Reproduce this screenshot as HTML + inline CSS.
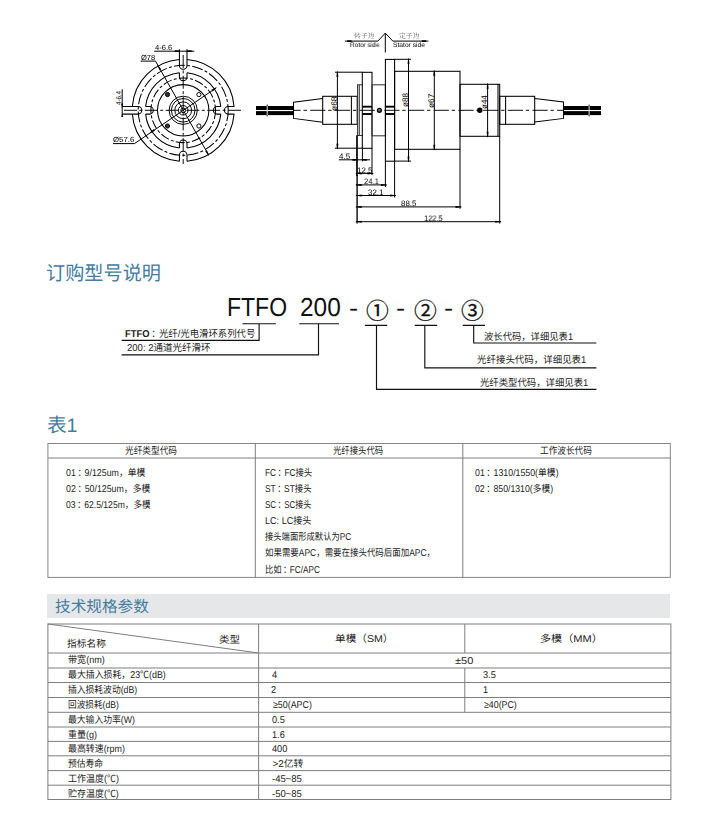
<!DOCTYPE html>
<html lang="zh-CN">
<head>
<meta charset="utf-8">
<title>FTFO 200 光纤/光电滑环</title>
<style>
*{margin:0;padding:0;box-sizing:border-box}
html,body{width:701px;height:825px;background:#fff;overflow:hidden}
body{position:relative;font-family:"Liberation Sans","Noto Sans CJK SC",sans-serif;color:#1a1a1a;-webkit-font-smoothing:antialiased}
#art{position:absolute;left:0;top:0;width:701px;height:825px}
.bar{position:absolute;left:47.2px;top:594.3px;width:622.4px;height:23.4px;background:#e6e7e8}
.t{position:absolute;white-space:pre;line-height:1;transform-origin:0 0;text-rendering:geometricPrecision}
.h{color:#457c9f;font-weight:400}
.m{color:#111;font-weight:400}
.mc{color:#111;font-weight:400;-webkit-text-stroke:.28px #111}
.md{color:#111;font-weight:400;font-family:"Noto Sans CJK SC",sans-serif}
.b{color:#1d1d1d}
.p{position:relative;left:.18em}
.dl{color:#000;will-change:transform}
.dr{color:#000}
.sf{color:#555;font-family:"Liberation Serif","Noto Serif CJK SC",serif;will-change:transform}
svg .o{fill:none;stroke:#000;stroke-width:1.05}
svg .g{fill:none;stroke:#333;stroke-width:1.05}
svg .ref{fill:none;stroke:#000;stroke-width:1.7}
svg .ref2{fill:none;stroke:#000;stroke-width:1.35}
svg .pin{fill:#777;stroke:#000;stroke-width:1.4}
svg .pl{fill:#ddd;stroke:#222;stroke-width:.8}
svg .th{fill:none;stroke:#000;stroke-width:.95}
svg .hf{fill:#333;stroke:#000;stroke-width:.95}
svg .d{fill:none;stroke:#000;stroke-width:1}
svg .ah{fill:#000;stroke:none}
svg .dot{fill:#000;stroke:none}
svg .cab{fill:#000;stroke:none}
svg .brk{fill:none;stroke:#fff;stroke-width:.9}
svg .mk{fill:none;stroke:#000;stroke-width:1.9}
svg .cl{fill:none;stroke:#000;stroke-width:.95;stroke-dasharray:15.2 2.8 3.4 3.3;stroke-dashoffset:7.9}
svg .cf{fill:none;stroke:#000;stroke-width:.95;stroke-dasharray:13 2.4 3 2.4}
svg .dc{fill:none;stroke:#000;stroke-width:1.05;stroke-dasharray:11 2.2 3 2.2}
svg .dc2{fill:none;stroke:#000;stroke-width:1.05;stroke-dasharray:9 2.2 3 2.2}
svg .k{fill:none;stroke:#111;stroke-width:1.15}
svg .tb rect,svg .tb line{fill:none;stroke:#7d7e81;stroke-width:1}
svg .tb .t1{stroke:#858689}
</style>
</head>
<body>
<div class="bar"></div>
<svg id="art" width="701" height="825" viewBox="0 0 701 825">
<g class="front">
<path class="o" d="M234.06 114.1A51 51 0 0 1 187 161.16M179.4 161.16A51 51 0 0 1 132.34 114.1M132.34 106.5A51 51 0 0 1 179.4 59.44M187 59.44A51 51 0 0 1 234.06 106.5"/>
<path class="o" d="M220.81 114.1A37.8 37.8 0 0 1 187 147.91M179.4 147.91A37.8 37.8 0 0 1 145.59 114.1M145.59 106.5A37.8 37.8 0 0 1 179.4 72.69M187 72.69A37.8 37.8 0 0 1 220.81 106.5"/>
<circle class="dc" cx="183.2" cy="110.3" r="45"/>
<circle class="dc2" cx="183.2" cy="110.3" r="32.3"/>
<circle class="o" cx="183.2" cy="110.3" r="25.7"/>
<circle class="th" cx="183.2" cy="110.3" r="14.1"/>
<circle class="th" cx="183.2" cy="110.3" r="11.8"/>
<circle class="th" cx="183.2" cy="110.3" r="8.4"/>
<circle class="th" cx="183.2" cy="110.3" r="4.8"/>
<circle class="th" cx="183.2" cy="110.3" r="2.4"/>
<circle class="hf" cx="167.5" cy="94.6" r="2.1"/>
<circle class="hf" cx="167.5" cy="126" r="2.1"/>
<circle class="th" cx="198.9" cy="94.6" r="2.1"/>
<circle class="th" cx="198.9" cy="126" r="2.1"/>
<path class="o" d="M187 49.3L187 65.4A3.8 3.8 0 0 1 179.4 65.4L179.4 49.3"/>
<path class="o" d="M187 72.69L187 76.9A3.8 3.8 0 0 1 179.4 76.9L179.4 72.69"/>
<path class="o" d="M179.4 161.16L179.4 155A3.8 3.8 0 0 1 187 155L187 161.16"/>
<path class="o" d="M179.4 147.91L179.4 143.9A3.8 3.8 0 0 1 187 143.9L187 147.91"/>
<path class="o" d="M122.3 106.5L138 106.5A3.8 3.8 0 0 1 138 114.1L122.3 114.1"/>
<path class="o" d="M145.59 106.5L149.5 106.5A3.8 3.8 0 0 1 149.5 114.1L145.59 114.1"/>
<path class="o" d="M234.36 114.1L228.2 114.1A3.8 3.8 0 0 1 228.2 106.5L234.36 106.5"/>
<path class="o" d="M220.81 114.1L217.1 114.1A3.8 3.8 0 0 1 217.1 106.5L220.81 106.5"/>
<line class="cf" x1="124" y1="110.3" x2="243.5" y2="110.3"/>
<line class="cf" x1="183.2" y1="55" x2="183.2" y2="164"/>
<line class="d" x1="154.2" y1="51.2" x2="194.3" y2="51.2"/>
<path class="ah" d="M179.4 51.9L174.8 52.1L174.8 50.3L179.4 50.5Z"/>
<path class="ah" d="M187 50.5L191.6 50.3L191.6 52.1L187 51.9Z"/>
<line class="d" x1="122.2" y1="89.2" x2="122.2" y2="115.2"/>
<path class="ah" d="M121.9 107.5L121.2 103.5L123.2 103.5L122.5 107.5Z"/>
<path class="ah" d="M122.5 114.1L123.2 117.1L121.2 117.1L121.9 114.1Z"/>
<path class="d" d="M140.6 61.1H155.5L208.6 155"/>
<path class="ah" d="M157.86 64.89L161.18 69.33L159.44 70.32L157.34 65.18Z"/>
<path class="ah" d="M208.54 155.71L205.22 151.27L206.96 150.28L209.06 155.42Z"/>
<path class="d" d="M113 143.6H134.5L215.9 88.1"/>
<path class="ah" d="M149.73 132.75L153.88 129.08L155.01 130.73L150.07 133.25Z"/>
<path class="ah" d="M216.67 87.85L212.52 91.52L211.39 89.87L216.33 87.35Z"/>
</g>
<g class="side">
<rect class="cab" x="256" y="106" width="37.5" height="4"/>
<rect class="cab" x="256" y="111.1" width="37.5" height="4"/>
<line class="brk" x1="267.2" y1="105.6" x2="267.2" y2="115.5"/>
<path class="th" d="M267.2 104.6V106M267.2 115.1V116.4"/>
<rect class="cab" x="563.6" y="106" width="37.4" height="4"/>
<rect class="cab" x="563.6" y="111.1" width="37.4" height="4"/>
<line class="brk" x1="589.1" y1="105.6" x2="589.1" y2="115.5"/>
<path class="th" d="M589.1 104.6V106M589.1 115.1V116.4"/>
<path class="o" d="M322.7 98.4L293.5 102.2V118.4L322.7 122.2"/>
<rect class="o" x="322.7" y="96.3" width="34.5" height="28"/>
<line class="o" x1="351.4" y1="96.2" x2="351.4" y2="124.2"/>
<path class="g" d="M362.4 84.8H357.6V135.4H362.4M359.3 84.8V135.4"/>
<rect class="o" x="362.3" y="72.3" width="9.7" height="76"/>
<rect class="g" x="372" y="84.8" width="13.4" height="51"/>
<rect class="o" x="385.4" y="59.4" width="9.2" height="101.8"/>
<rect class="o" x="394.6" y="71.3" width="65.4" height="78"/>
<rect class="o" x="460" y="84.3" width="39.7" height="52"/>
<line class="o" x1="498" y1="84.2" x2="498" y2="136.2"/>
<rect class="o" x="499.7" y="96.3" width="35" height="28"/>
<line class="o" x1="505.6" y1="96.2" x2="505.6" y2="124.2"/>
<path class="o" d="M534.7 98.4L563.5 102.0V118.4L534.7 122.0"/>
<line class="mk" x1="362.3" y1="106.7" x2="372" y2="106.7"/>
<line class="mk" x1="362.3" y1="114" x2="372" y2="114"/>
<line class="mk" x1="385.4" y1="106.7" x2="394.6" y2="106.7"/>
<line class="mk" x1="385.4" y1="114" x2="394.6" y2="114"/>
<line class="cl" x1="293.4" y1="110.3" x2="563.6" y2="110.3"/>
<circle class="pin" cx="379.4" cy="110.3" r="1.9"/>
<circle class="dot" cx="479.8" cy="110.3" r="2.7"/>
<path class="d" d="M345 41.1H377.8L385.3 33.1L392.8 41.1H428.4M385.3 33.1V52.5"/>
<rect class="dot" x="347.2" y="40.3" width="4.4" height="1.6"/>
<rect class="dot" x="421.8" y="40.3" width="4.4" height="1.6"/>
<path class="d" d="M335 72.2H362.3M335 148.2H362.3M337.4 72.2V148.2"/>
<path class="ah" d="M337.7 71.2L338.4 76.7L336.4 76.7L337.1 71.2Z"/>
<path class="ah" d="M337.1 149.2L336.4 143.7L338.4 143.7L337.7 149.2Z"/>
<path class="d" d="M394.6 59.3H411M394.6 161.1H411M408.5 59.3V161.1"/>
<path class="ah" d="M408.8 58.3L409.5 63.8L407.5 63.8L408.2 58.3Z"/>
<path class="ah" d="M408.2 162.1L407.5 156.6L409.5 156.6L408.8 162.1Z"/>
<path class="d" d="M434.3 71.2V149.2"/>
<path class="ah" d="M434.6 70.2L435.3 75.7L433.3 75.7L434 70.2Z"/>
<path class="ah" d="M434 150.2L433.3 144.7L435.3 144.7L434.6 150.2Z"/>
<path class="d" d="M487.6 84.2V136.2"/>
<path class="ah" d="M487.9 83.2L488.6 88.7L486.6 88.7L487.3 83.2Z"/>
<path class="ah" d="M487.3 137.2L486.6 131.7L488.6 131.7L487.9 137.2Z"/>
<line class="ref" x1="357" y1="135.3" x2="357" y2="176"/>
<line class="ref2" x1="357.1" y1="175" x2="357.1" y2="223.6"/>
<path class="d" d="M362.4 148.2V161.4M372 148.2V175M385.4 161.1V187M394.6 161.1V197.5M460 149.2V208.8M499.7 136.2V223.6"/>
<path class="d" d="M338.8 159.8H370M355.8 173.4H373.4M355.8 184.9H386.8M355.8 195.5H396M355.8 206.9H461.4M355.8 221.7H501.1"/>
<path class="ah" d="M357.2 160.5L352.4 160.7L352.4 158.9L357.2 159.1Z"/>
<path class="ah" d="M362.3 159.1L366.9 158.9L366.9 160.7L362.3 160.5Z"/>
<path class="ah" d="M356.2 173.1L361.7 172.4L361.7 174.4L356.2 173.7Z"/>
<path class="ah" d="M373 173.7L367.5 174.4L367.5 172.4L373 173.1Z"/>
<path class="ah" d="M356.2 184.6L361.7 183.9L361.7 185.9L356.2 185.2Z"/>
<path class="ah" d="M386.4 185.2L380.9 185.9L380.9 183.9L386.4 184.6Z"/>
<path class="ah" d="M356.2 195.2L361.7 194.5L361.7 196.5L356.2 195.8Z"/>
<path class="ah" d="M395.6 195.8L390.1 196.5L390.1 194.5L395.6 195.2Z"/>
<path class="ah" d="M356.2 206.6L361.7 205.9L361.7 207.9L356.2 207.2Z"/>
<path class="ah" d="M461 207.2L455.5 207.9L455.5 205.9L461 206.6Z"/>
<path class="ah" d="M356.2 221.4L361.7 220.7L361.7 222.7L356.2 222Z"/>
<path class="ah" d="M500.7 222L495.2 222.7L495.2 220.7L500.7 221.4Z"/>
</g>
<g class="lead">
<path class="k" d="M242.4 323.7H275.8M259.1 323.7V340.3H121.6"/>
<path class="k" d="M299.2 323.7H339M318.5 323.7V354.9H121.6"/>
<path class="k" d="M364.9 325.4H387.2M376.5 325.4V389.4H596.4"/>
<path class="k" d="M414.7 325.4H437.2M424.8 325.4V367.9H596.4"/>
<path class="k" d="M462.7 325.4H485M473.7 325.4V343H596.4"/>
</g>
<g class="tb">
<rect class="t1" x="47.9" y="443.5" width="622.4" height="133.9"/>
<line x1="47.9" y1="458" x2="670.3" y2="458"/>
<line x1="255.3" y1="443.5" x2="255.3" y2="577.4"/>
<line x1="462.8" y1="443.5" x2="462.8" y2="577.4"/>
<rect x="47.9" y="624" width="623" height="175.5"/>
<line x1="47.9" y1="653" x2="670.9" y2="653"/>
<line x1="47.9" y1="668" x2="670.9" y2="668"/>
<line x1="47.9" y1="682.5" x2="670.9" y2="682.5"/>
<line x1="47.9" y1="697.5" x2="670.9" y2="697.5"/>
<line x1="47.9" y1="712.3" x2="670.9" y2="712.3"/>
<line x1="47.9" y1="727" x2="670.9" y2="727"/>
<line x1="47.9" y1="741.4" x2="670.9" y2="741.4"/>
<line x1="47.9" y1="755.8" x2="670.9" y2="755.8"/>
<line x1="47.9" y1="770.6" x2="670.9" y2="770.6"/>
<line x1="47.9" y1="785.2" x2="670.9" y2="785.2"/>
<line x1="258.6" y1="624" x2="258.6" y2="799.5"/>
<line x1="464.8" y1="624" x2="464.8" y2="653"/>
<line x1="464.8" y1="668" x2="464.8" y2="712.3"/>
<line x1="47.9" y1="624" x2="258.6" y2="653"/>
</g>
</svg>
<section class="drawing-labels">
<span class="t dl" style="left:154.6px;top:44px;font-size:7.4px;transform:scaleX(1.024);">4-6.6</span>
<span class="t dl" style="left:140.7px;top:54px;font-size:7.4px;transform:scaleX(1.014);">Ø78</span>
<span class="t dl" style="left:113.1px;top:136px;font-size:7.4px;transform:scaleX(1.055);">Ø57.6</span>
<span class="t dr" style="left:116.1px;top:105.1px;font-size:7.0px;transform:rotate(-90deg) scaleX(0.875);">4-6.4</span>
<span class="t sf" style="left:354.4px;top:34px;font-size:6.6px;transform:scaleX(1.044);">转子边</span>
<span class="t sf" style="left:398.5px;top:34px;font-size:6.6px;transform:scaleX(1.039);">定子边</span>
<span class="t dl" style="left:349.7px;top:43px;font-size:6.6px;transform:scaleX(0.977);">Rotor side</span>
<span class="t dl" style="left:392.8px;top:43px;font-size:6.6px;transform:scaleX(1.013);">Stator side</span>
<span class="t dr" style="left:331.0px;top:111.4px;font-size:8.2px;transform:rotate(-90deg) scaleX(1.031);">ø68</span>
<span class="t dr" style="left:401.7px;top:106.7px;font-size:8.2px;transform:rotate(-90deg) scaleX(0.992);">ø88</span>
<span class="t dr" style="left:427.6px;top:107.5px;font-size:8.2px;transform:rotate(-90deg) scaleX(1.015);">ø67</span>
<span class="t dr" style="left:480.6px;top:109.0px;font-size:8.2px;transform:rotate(-90deg) scaleX(0.977);">ø44</span>
<span class="t dl" style="left:339.3px;top:153px;font-size:7.9px;transform:scaleX(1.009);">4.5</span>
<span class="t dl" style="left:356.8px;top:167px;font-size:7.9px;transform:scaleX(1.014);">12.5</span>
<span class="t dl" style="left:364.0px;top:178px;font-size:7.9px;transform:scaleX(0.960);">24.1</span>
<span class="t dl" style="left:368.4px;top:189px;font-size:7.9px;transform:scaleX(1.007);">32.1</span>
<span class="t dl" style="left:401.0px;top:200px;font-size:7.9px;">88.5</span>
<span class="t dl" style="left:423.7px;top:215px;font-size:7.9px;transform:scaleX(0.950);">122.5</span>
</section>
<section class="order-title">
<h2 class="t h" style="left:46.3px;top:265px;font-size:19.6px;transform:scaleX(0.978);">订购型号说明</h2>
</section>
<section class="order-code">
<span class="t m" style="left:226.6px;top:294px;font-size:26px;transform:scaleX(0.885);">FTFO</span>
<span class="t m" style="left:300.0px;top:294px;font-size:26px;transform:scaleX(0.940);">200</span>
<span class="t md" style="left:349.0px;top:294px;font-size:26px;transform:scaleX(1.014);">-</span>
<span class="t mc" style="left:365.8px;top:300px;font-size:22.9px;transform:scaleX(0.995);">①</span>
<span class="t md" style="left:396.3px;top:294px;font-size:26px;transform:scaleX(1.014);">-</span>
<span class="t mc" style="left:413.8px;top:300px;font-size:22.9px;transform:scaleX(0.995);">②</span>
<span class="t md" style="left:443.9px;top:294px;font-size:26px;transform:scaleX(1.014);">-</span>
<span class="t mc" style="left:461.4px;top:300px;font-size:22.9px;transform:scaleX(0.995);">③</span>
<span class="t b" style="left:124.5px;top:330px;font-size:9.9px;transform:scaleX(0.950);"><b>FTFO</b><span class="p">：</span>光纤/光电滑环系列代号</span>
<span class="t b" style="left:127.0px;top:344px;font-size:9.9px;transform:scaleX(0.964);">200: 2通道光纤滑环</span>
<span class="t b" style="left:484.1px;top:333px;font-size:9.9px;transform:scaleX(0.944);">波长代码，详细见表1</span>
<span class="t b" style="left:476.6px;top:356px;font-size:9.9px;transform:scaleX(0.958);">光纤接头代码，详细见表1</span>
<span class="t b" style="left:479.8px;top:379px;font-size:9.9px;transform:scaleX(0.949);">光纤类型代码，详细见表1</span>
</section>
<section class="table1-title">
<h2 class="t h" style="left:46.9px;top:417px;font-size:19.6px;">表1</h2>
</section>
<section class="table1">
<span class="t b" style="left:125.0px;top:447px;font-size:9.9px;transform:scaleX(0.878);">光纤类型代码</span>
<span class="t b" style="left:333.4px;top:447px;font-size:9.9px;transform:scaleX(0.845);">光纤接头代码</span>
<span class="t b" style="left:539.8px;top:447px;font-size:9.9px;transform:scaleX(0.874);">工作波长代码</span>
<span class="t b" style="left:66.0px;top:469px;font-size:9.9px;transform:scaleX(0.892);">01<span class="p">：</span>9/125um，单模</span>
<span class="t b" style="left:66.0px;top:485px;font-size:9.9px;transform:scaleX(0.893);">02<span class="p">：</span>50/125um，多模</span>
<span class="t b" style="left:66.0px;top:501px;font-size:9.9px;transform:scaleX(0.871);">03<span class="p">：</span>62.5/125m，多模</span>
<span class="t b" style="left:265.0px;top:469px;font-size:9.9px;transform:scaleX(0.843);">FC<span class="p">：</span>FC接头</span>
<span class="t b" style="left:265.0px;top:485px;font-size:9.9px;transform:scaleX(0.849);">ST<span class="p">：</span>ST接头</span>
<span class="t b" style="left:265.0px;top:501px;font-size:9.9px;transform:scaleX(0.812);">SC<span class="p">：</span>SC接头</span>
<span class="t b" style="left:264.9px;top:517px;font-size:9.9px;transform:scaleX(0.918);">LC: LC接头</span>
<span class="t b" style="left:265.0px;top:533px;font-size:9.9px;transform:scaleX(0.841);">接头端面形成默认为PC</span>
<span class="t b" style="left:264.9px;top:549px;font-size:9.9px;transform:scaleX(0.856);">如果需要APC，需要在接头代码后面加APC，</span>
<span class="t b" style="left:265.0px;top:566px;font-size:9.9px;transform:scaleX(0.836);">比如<span class="p">：</span>FC/APC</span>
<span class="t b" style="left:475.0px;top:469px;font-size:9.9px;transform:scaleX(0.890);">01<span class="p">：</span>1310/1550(单模)</span>
<span class="t b" style="left:475.0px;top:485px;font-size:9.9px;transform:scaleX(0.883);">02<span class="p">：</span>850/1310(多模)</span>
</section>
<section class="spec-title">
<h2 class="t h" style="left:55.3px;top:600px;font-size:15.8px;transform:scaleX(0.990);">技术规格参数</h2>
</section>
<section class="spec-table">
<span class="t b" style="left:67.4px;top:640px;font-size:9.9px;transform:scaleX(0.984);">指标名称</span>
<span class="t b" style="left:218.6px;top:636px;font-size:9.9px;transform:scaleX(1.067);">类型</span>
<span class="t b" style="left:334.8px;top:635px;font-size:9.9px;transform:scaleX(1.077);">单模（SM）</span>
<span class="t b" style="left:539.6px;top:635px;font-size:9.9px;transform:scaleX(1.121);">多模（MM）</span>
<span class="t b" style="left:455.0px;top:657px;font-size:9.9px;transform:scaleX(1.113);">±50</span>
<span class="t b" style="left:67.8px;top:656px;font-size:9.9px;transform:scaleX(0.921);">带宽(nm)</span>
<span class="t b" style="left:67.8px;top:671px;font-size:9.9px;transform:scaleX(0.900);">最大插入损耗，23℃(dB)</span>
<span class="t b" style="left:272.0px;top:671px;font-size:9.9px;transform:scaleX(0.930);">4</span>
<span class="t b" style="left:482.6px;top:671px;font-size:9.9px;transform:scaleX(0.930);">3.5</span>
<span class="t b" style="left:67.8px;top:686px;font-size:9.9px;transform:scaleX(0.889);">插入损耗波动(dB)</span>
<span class="t b" style="left:271.1px;top:686px;font-size:9.9px;transform:scaleX(0.930);">2</span>
<span class="t b" style="left:482.6px;top:686px;font-size:9.9px;transform:scaleX(0.930);">1</span>
<span class="t b" style="left:67.8px;top:701px;font-size:9.9px;transform:scaleX(0.875);">回波损耗(dB)</span>
<span class="t b" style="left:272.6px;top:701px;font-size:9.9px;transform:scaleX(0.898);">≥50(APC)</span>
<span class="t b" style="left:483.5px;top:701px;font-size:9.9px;transform:scaleX(0.894);">≥40(PC)</span>
<span class="t b" style="left:67.8px;top:716px;font-size:9.9px;transform:scaleX(0.892);">最大输入功率(W)</span>
<span class="t b" style="left:272.4px;top:716px;font-size:9.9px;transform:scaleX(0.930);">0.5</span>
<span class="t b" style="left:67.8px;top:731px;font-size:9.9px;transform:scaleX(0.910);">重量(g)</span>
<span class="t b" style="left:272.1px;top:731px;font-size:9.9px;transform:scaleX(0.930);">1.6</span>
<span class="t b" style="left:67.8px;top:745px;font-size:9.9px;transform:scaleX(0.902);">最高转速(rpm)</span>
<span class="t b" style="left:272.0px;top:745px;font-size:9.9px;transform:scaleX(0.930);">400</span>
<span class="t b" style="left:67.7px;top:760px;font-size:9.9px;transform:scaleX(0.890);">预估寿命</span>
<span class="t b" style="left:272.4px;top:760px;font-size:9.9px;">&gt;2亿转</span>
<span class="t b" style="left:67.5px;top:775px;font-size:9.9px;transform:scaleX(0.911);">工作温度(℃)</span>
<span class="t b" style="left:272.4px;top:775px;font-size:9.9px;transform:scaleX(0.963);">-45~85</span>
<span class="t b" style="left:67.6px;top:790px;font-size:9.9px;transform:scaleX(0.909);">贮存温度(℃)</span>
<span class="t b" style="left:272.4px;top:790px;font-size:9.9px;transform:scaleX(0.963);">-50~85</span>
</section>
</body>
</html>
